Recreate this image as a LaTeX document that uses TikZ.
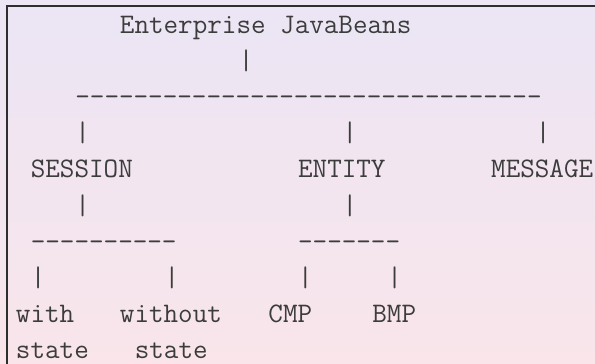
\documentclass[tikz,border=0pt]{standalone}
\usetikzlibrary{calc}

\definecolor{bgtop}{HTML}{EBE5F5}
\definecolor{bgbottom}{HTML}{F9E5EA}
\definecolor{ink}{HTML}{3C3C3C}
\definecolor{frame}{HTML}{2E2E2E}

% character grid of the tree: cell width and line pitch
\newcommand{\cw}{14.85}
\newcommand{\lp}{36.2}

\tikzset{
  glyphs/.style={inner sep=0pt, outer sep=0pt, anchor=base west, text=ink,
    font=\ttfamily\fontsize{28.29}{34}\selectfont},
}

% place text at a column/row of the grid
\newcommand{\cell}[4]{\node[glyphs] (#1) at ({16+\cw*#2},{33+\lp*(#3-1)}) {#4};}

\begin{document}
\begin{tikzpicture}[x=1pt,y=-1pt]
  \useasboundingbox (0,0) rectangle (595,364);
  \shade[top color=bgtop, bottom color=bgbottom] (0,0) rectangle (595,364);
  \draw[frame, line width=1.4pt] (7,364) -- (7,6) -- (595,6);

  % root
  \cell{root}{7}{1}{Enterprise JavaBeans}
  \cell{rootbar}{15}{2}{|}
  \cell{toprule}{4}{3}{--------------------------------}
  \cell{sbar}{4}{4}{|}
  \cell{ebar}{22}{4}{|}
  \cell{mbar}{35}{4}{|}

  % bean kinds
  \cell{session}{1}{5}{SESSION}
  \cell{entity}{19}{5}{ENTITY}
  \cell{message}{32}{5}{MESSAGE}

  \cell{sdown}{4}{6}{|}
  \cell{edown}{22}{6}{|}
  \cell{srule}{1}{7}{----------}
  \cell{erule}{19}{7}{-------}

  \cell{wbar}{1}{8}{|}
  \cell{wobar}{10}{8}{|}
  \cell{cbar}{19}{8}{|}
  \cell{bbar}{25}{8}{|}

  % leaves
  \cell{with}{0}{9}{with}
  \cell{without}{7}{9}{without}
  \cell{cmp}{17}{9}{CMP}
  \cell{bmp}{24}{9}{BMP}
  \cell{wstate}{0}{10}{state}
  \cell{wostate}{8}{10}{state}
\end{tikzpicture}
\end{document}
